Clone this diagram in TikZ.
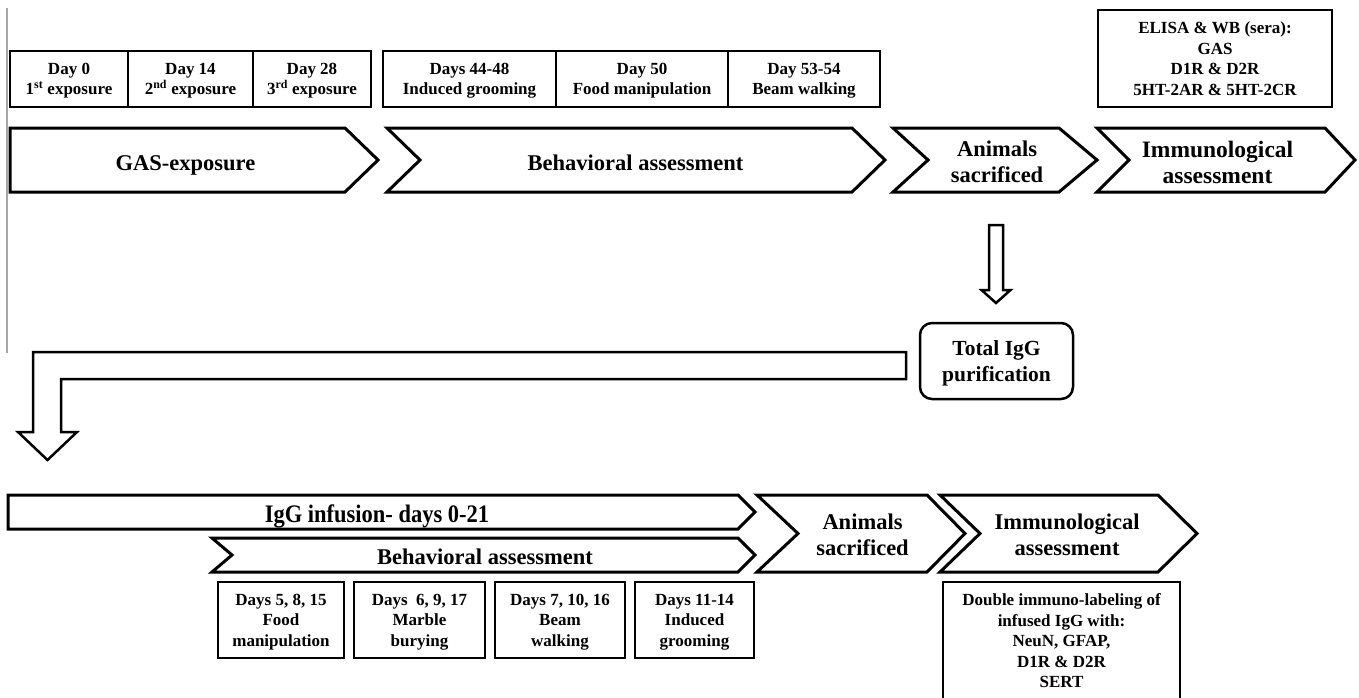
\documentclass[tikz,border=0pt]{standalone}
\usepackage{fontspec}
\usepackage{graphicx}
\setmainfont{Liberation Serif}
\begin{document}
\begin{tikzpicture}[x=1pt,y=-1pt,
  sm/.style={font=\fontsize{17}{20.5}\selectfont\bfseries, align=center},
  bg/.style={font=\fontsize{22.5}{26}\selectfont\bfseries, align=center},
  tbox/.style={draw, line width=2.5pt, inner sep=0pt, text depth=0pt, sm},
  chev/.style={draw, line width=3pt, line join=miter},
  barrow/.style={draw, line width=2.5pt, line join=miter}]
\useasboundingbox (0,0) rectangle (1359,697);
\draw[gray!70, line width=1.5pt] (7,8) -- (7,353);

% ---- top row boxes
\node[tbox, minimum width=118pt, minimum height=56pt] (d0) at (69,79) {Day 0\\1\textsuperscript{st} exposure};
\node[tbox, minimum width=125pt, minimum height=56pt] (d14) at (190.5,79) {Day 14\\2\textsuperscript{nd} exposure};
\node[tbox, minimum width=118pt, minimum height=56pt] (d28) at (312,79) {Day 28\\3\textsuperscript{rd} exposure};
\node[tbox, minimum width=173pt, minimum height=56pt] (d44) at (469.5,79) {Days 44-48\\Induced grooming};
\node[tbox, minimum width=172pt, minimum height=56pt] (d50) at (642,79) {Day 50\\Food manipulation};
\node[tbox, minimum width=152pt, minimum height=56pt] (d53) at (804,79) {Day 53-54\\Beam walking};
\node[tbox, minimum width=234pt, minimum height=97pt] (elisa) at (1215,58.5) {ELISA \& WB (sera):\\GAS\\D1R \& D2R\\5HT-2AR \& 5HT-2CR};

% ---- top chevrons
\draw[chev] (10,128) -- (345,128) -- (378,160) -- (345,192) -- (10,192) -- cycle;
\node[bg, anchor=base] (gas) at (185.5,170) {GAS-exposure};
\draw[chev] (387,128) -- (852,128) -- (885,160) -- (852,192) -- (387,192) -- (420,160) -- cycle;
\node[bg, anchor=base] (beh1) at (635.5,170) {Behavioral assessment};
\draw[chev] (893,128) -- (1059,128) -- (1097,160) -- (1059,192) -- (893,192) -- (928,160) -- cycle;
\node[bg, text depth=0pt] (an1) at (997,162) {Animals\\sacrificed};
\draw[chev] (1097,128) -- (1325,128) -- (1355,160) -- (1325,192) -- (1097,192) -- (1129,160) -- cycle;
\node[bg, text depth=0pt, font=\fontsize{23.5}{26}\selectfont\bfseries] (im1) at (1217.5,162) {Immunological\\assessment};

% ---- down block arrow to IgG purification
\draw[barrow] (989,225) -- (1003,225) -- (1003,290) -- (1010.5,290) -- (996,303) -- (981.5,290) -- (989,290) -- cycle;
\node[draw, line width=2.5pt, rounded corners=12pt, minimum width=153pt, minimum height=76pt,
      bg, font=\fontsize{21.5}{26}\selectfont\bfseries, text depth=0pt] (tig) at (996.5,361) {Total IgG\\purification};

% ---- L-shaped block arrow
\draw[barrow] (906,352) -- (33,352) -- (33,432) -- (18,432) -- (47.5,460) -- (77,432) -- (61,432) -- (61,379) -- (906,379) -- cycle;

% ---- bottom chevrons
\draw[chev] (8,495) -- (738,495) -- (755,512) -- (738,529) -- (8,529) -- cycle;
\node[bg, anchor=base] (igg) at (377,522) {\scalebox{1}[1.12]{IgG infusion- days 0-21}};
\draw[chev] (212,538) -- (738,538) -- (755,555) -- (738,572) -- (212,572) -- (232,555) -- cycle;
\node[bg, anchor=base] (beh2) at (485,564) {Behavioral assessment};
\draw[chev] (757,495) -- (927,495) -- (965,533.5) -- (927,572) -- (757,572) -- (798,533.5) -- cycle;
\node[bg, text depth=0pt] (an2) at (862.5,535) {Animals\\sacrificed};
\draw[chev] (940,495) -- (1158,495) -- (1197,533.5) -- (1158,572) -- (940,572) -- (980,533.5) -- cycle;
\node[bg, text depth=0pt] (im2) at (1067,535) {Immunological\\assessment};

% ---- bottom boxes
\node[tbox, minimum width=126pt, minimum height=76pt] (b1) at (281,620) {Days 5, 8, 15\\Food\\manipulation};
\node[tbox, minimum width=131pt, minimum height=76pt] (b2) at (419.5,620) {Days\ \ 6, 9, 17\\Marble\\burying};
\node[tbox, minimum width=130pt, minimum height=76pt] (b3) at (560,620) {Days 7, 10, 16\\Beam\\walking};
\node[tbox, minimum width=119pt, minimum height=76pt] (b4) at (694.5,620) {Days 11-14\\Induced\\grooming};
\draw[line width=2.5pt] (943,712) -- (943,582) -- (1180,582) -- (1180,712);
\node[sm, inner sep=0pt, anchor=north] (dbl) at (1061.5,593.5)
  {Double immuno-labeling of\\infused IgG with:\\NeuN, GFAP,\\D1R \& D2R\\SERT};
\end{tikzpicture}
\end{document}
